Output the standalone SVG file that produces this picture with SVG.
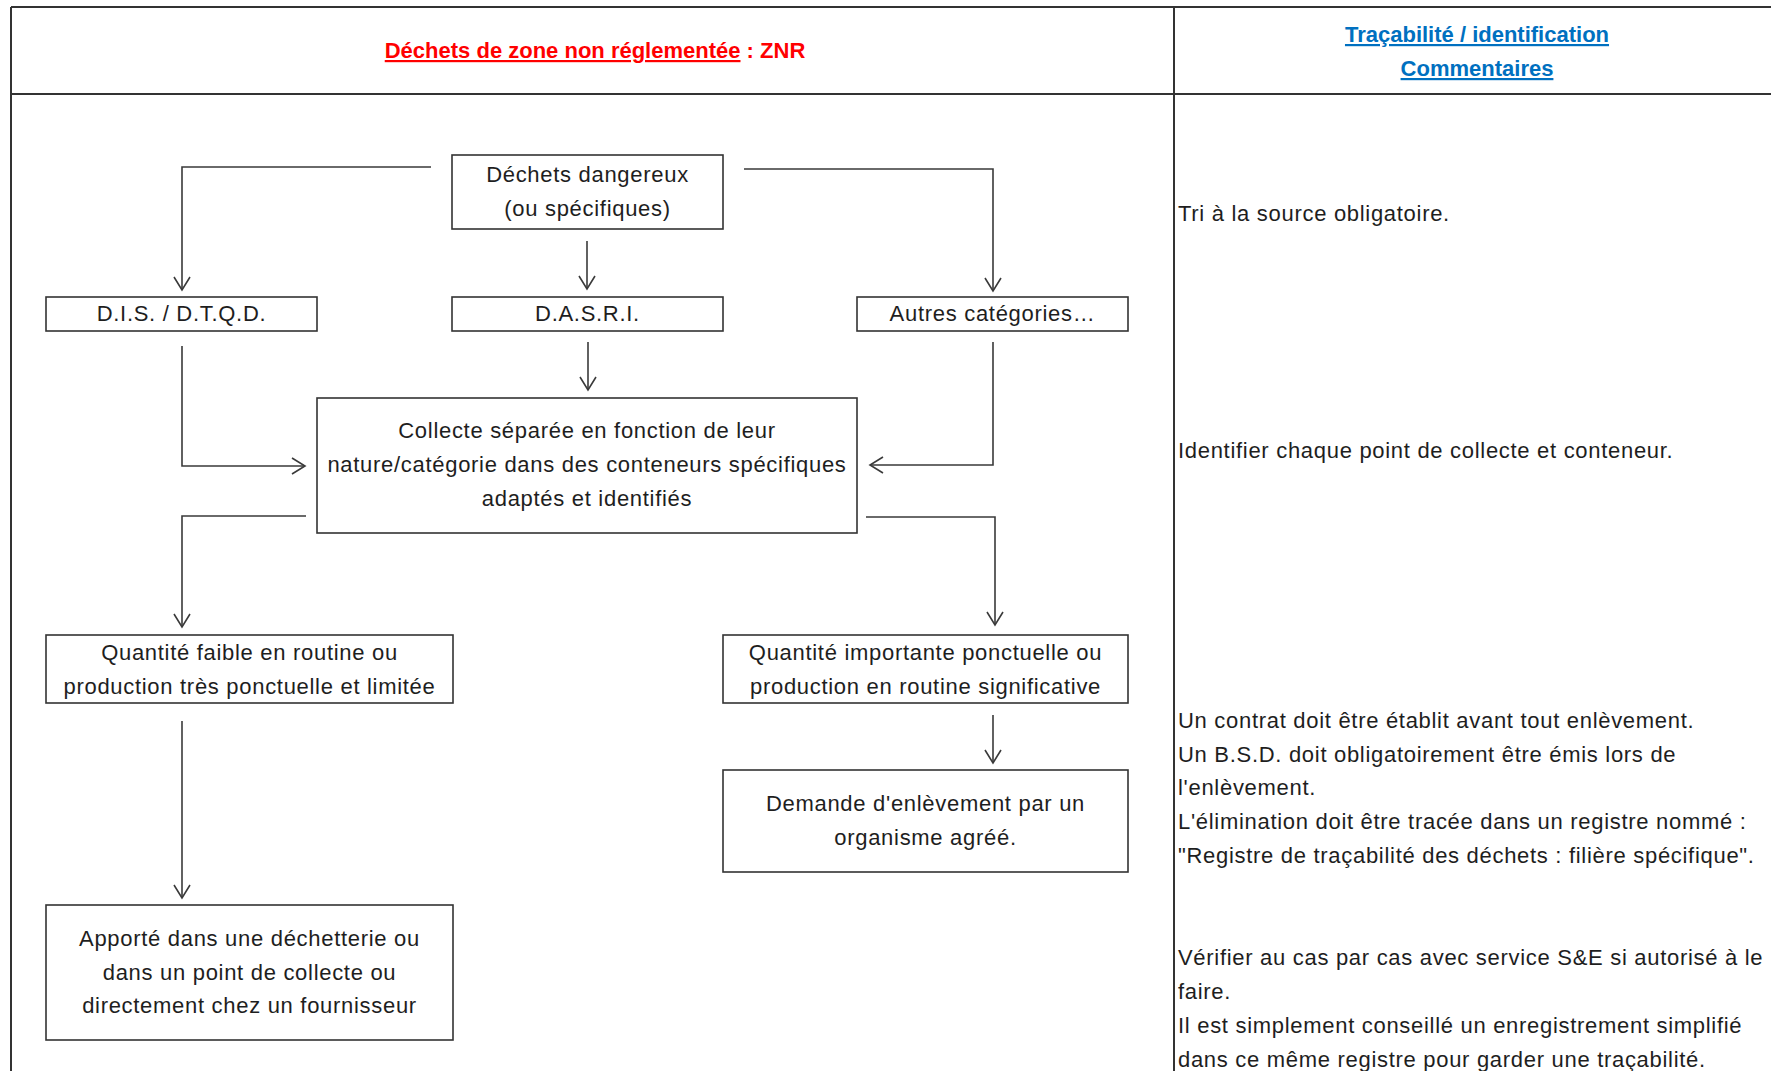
<svg xmlns="http://www.w3.org/2000/svg" width="1771" height="1071" viewBox="0 0 1771 1071">
<defs>
<style>
.grid{stroke:#333;stroke-width:2;fill:none}
.box{fill:#fff;stroke:#333;stroke-width:1.6}
.t{font-family:"Liberation Sans",Arial,sans-serif;font-size:22px;letter-spacing:0.7px;fill:#1e1e1e;text-anchor:middle}
.c{font-family:"Liberation Sans",Arial,sans-serif;font-size:22px;letter-spacing:0.7px;fill:#1e1e1e}
.conn{fill:none;stroke:#3a3a3a;stroke-width:1.6}
.title{font-family:"Liberation Sans",Arial,sans-serif;font-size:22px;font-weight:bold;fill:#ff0000;text-anchor:middle}
.head{font-family:"Liberation Sans",Arial,sans-serif;font-size:22px;font-weight:bold;fill:#0070c0;text-anchor:middle;text-decoration:underline}
</style>
<marker id="arr" viewBox="-15 -10 17 20" refX="0" refY="0" markerWidth="17" markerHeight="20" markerUnits="userSpaceOnUse" orient="auto">
<path d="M-13,-8 L0,0 L-13,8" fill="none" stroke="#3a3a3a" stroke-width="1.6"/>
</marker>
</defs>
<rect width="1771" height="1071" fill="#fff"/>
<g id="table">
<path class="grid" d="M11,7 H1771 M11,94 H1771 M11,7 V1071 M1174,7 V1071"/>
<text class="title" x="595" y="58"><tspan text-decoration="underline">Déchets de zone non réglementée</tspan> : ZNR</text>
<text class="head" x="1477" y="42">Traçabilité / identification</text>
<text class="head" x="1477" y="76">Commentaires</text>
</g>
<g id="connectors">
<path class="conn" marker-end="url(#arr)" d="M431,167 H182 V290"/>
<path class="conn" marker-end="url(#arr)" d="M744,169 H993 V291"/>
<path class="conn" marker-end="url(#arr)" d="M587,241 V289"/>
<path class="conn" marker-end="url(#arr)" d="M588,342 V390"/>
<path class="conn" marker-end="url(#arr)" d="M182,346 V466 H305"/>
<path class="conn" marker-end="url(#arr)" d="M993,342 V465 H870"/>
<path class="conn" marker-end="url(#arr)" d="M306,516 H182 V627"/>
<path class="conn" marker-end="url(#arr)" d="M866,517 H995 V625"/>
<path class="conn" marker-end="url(#arr)" d="M993,715 V763"/>
<path class="conn" marker-end="url(#arr)" d="M182,721 V898"/>
</g>
<g id="n-dangereux">
<rect class="box" x="452" y="155" width="271" height="74"/>
<text class="t" x="587.5" y="182">Déchets dangereux</text>
<text class="t" x="587.5" y="216">(ou spécifiques)</text>
</g>
<g id="n-dis">
<rect class="box" x="46" y="297" width="271" height="34"/>
<text class="t" x="181.5" y="321">D.I.S. / D.T.Q.D.</text>
</g>
<g id="n-dasri">
<rect class="box" x="452" y="297" width="271" height="34"/>
<text class="t" x="587.5" y="321">D.A.S.R.I.</text>
</g>
<g id="n-autres">
<rect class="box" x="857" y="297" width="271" height="34"/>
<text class="t" x="992.5" y="321">Autres catégories…</text>
</g>
<g id="n-collecte">
<rect class="box" x="317" y="398" width="540" height="135"/>
<text class="t" x="587" y="438">Collecte séparée en fonction de leur</text>
<text class="t" x="587" y="472">nature/catégorie dans des conteneurs spécifiques</text>
<text class="t" x="587" y="506">adaptés et identifiés</text>
</g>
<g id="n-faible">
<rect class="box" x="46" y="635" width="407" height="68"/>
<text class="t" x="249.5" y="660">Quantité faible en routine ou</text>
<text class="t" x="249.5" y="694">production très ponctuelle et limitée</text>
</g>
<g id="n-importante">
<rect class="box" x="723" y="635" width="405" height="68"/>
<text class="t" x="925.5" y="660">Quantité importante ponctuelle ou</text>
<text class="t" x="925.5" y="694">production en routine significative</text>
</g>
<g id="n-demande">
<rect class="box" x="723" y="770" width="405" height="102"/>
<text class="t" x="925.5" y="811">Demande d'enlèvement par un</text>
<text class="t" x="925.5" y="845">organisme agréé.</text>
</g>
<g id="n-apporte">
<rect class="box" x="46" y="905" width="407" height="135"/>
<text class="t" x="249.5" y="946">Apporté dans une déchetterie ou</text>
<text class="t" x="249.5" y="980">dans un point de collecte ou</text>
<text class="t" x="249.5" y="1013">directement chez un fournisseur</text>
</g>
<g id="comments">
<text class="c" x="1178" y="220.5">Tri à la source obligatoire.</text>
<text class="c" x="1178" y="458">Identifier chaque point de collecte et conteneur.</text>
<text class="c" x="1178" y="727.6">Un contrat doit être établit avant tout enlèvement.</text>
<text class="c" x="1178" y="761.5">Un B.S.D. doit obligatoirement être émis lors de</text>
<text class="c" x="1178" y="795.4">l'enlèvement.</text>
<text class="c" x="1178" y="829.3">L'élimination doit être tracée dans un registre nommé :</text>
<text class="c" x="1178" y="863.2">"Registre de traçabilité des déchets : filière spécifique".</text>
<text class="c" x="1178" y="964.8">Vérifier au cas par cas avec service S&amp;E si autorisé à le</text>
<text class="c" x="1178" y="998.7">faire.</text>
<text class="c" x="1178" y="1032.6">Il est simplement conseillé un enregistrement simplifié</text>
<text class="c" x="1178" y="1066.5">dans ce même registre pour garder une traçabilité.</text>
</g>
</svg>
